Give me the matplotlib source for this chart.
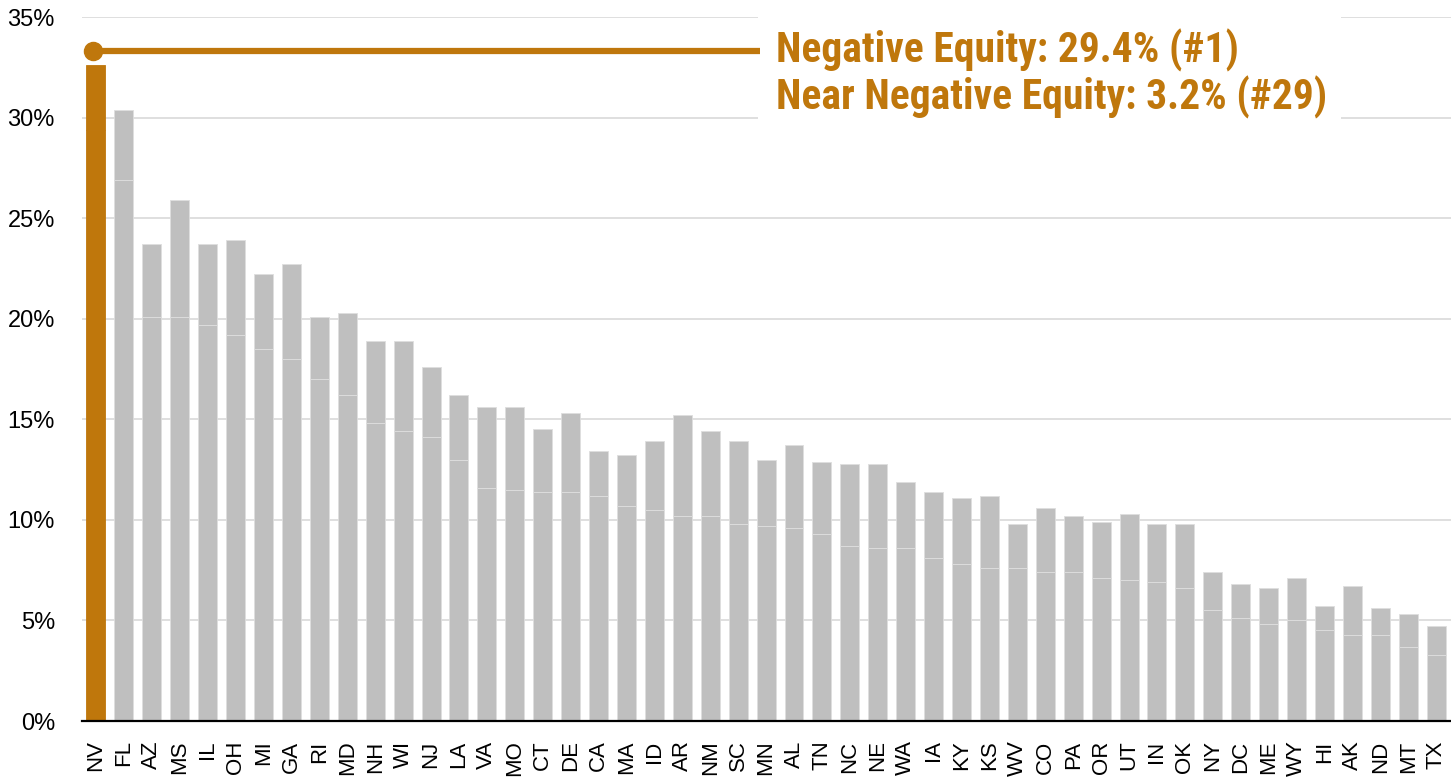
import matplotlib
matplotlib.use("Agg")
import matplotlib.pyplot as plt
from matplotlib import font_manager as fm
import numpy as np

states = ["NV", "FL", "AZ", "MS", "IL", "OH", "MI", "GA", "RI", "MD", "NH", "WI", "NJ",
          "LA", "VA", "MO", "CT", "DE", "CA", "MA", "ID", "AR", "NM", "SC", "MN", "AL",
          "TN", "NC", "NE", "WA", "IA", "KY", "KS", "WV", "CO", "PA", "OR", "UT", "IN",
          "OK", "NY", "DC", "ME", "WY", "HI", "AK", "ND", "MT", "TX"]
negative = [29.4, 26.9, 20.1, 20.1, 19.7, 19.2, 18.5, 18.0, 17.0, 16.2, 14.8, 14.4, 14.1,
            13.0, 11.6, 11.5, 11.4, 11.4, 11.2, 10.7, 10.5, 10.2, 10.2, 9.8, 9.7, 9.6,
            9.3, 8.7, 8.6, 8.6, 8.1, 7.8, 7.6, 7.6, 7.4, 7.4, 7.1, 7.0, 6.9,
            6.6, 5.5, 5.1, 4.8, 5.0, 4.5, 4.3, 4.3, 3.7, 3.3]
near_negative = [3.2, 3.5, 3.6, 5.8, 4.0, 4.7, 3.7, 4.7, 3.1, 4.1, 4.1, 4.5, 3.5,
                 3.2, 4.0, 4.1, 3.1, 3.9, 2.2, 2.5, 3.4, 5.0, 4.2, 4.1, 3.3, 4.1,
                 3.6, 4.1, 4.2, 3.3, 3.3, 3.3, 3.6, 2.2, 3.2, 2.8, 2.8, 3.3, 2.9,
                 3.2, 1.9, 1.7, 1.8, 2.1, 1.2, 2.4, 1.3, 1.6, 1.4]
yticks = [0, 5, 10, 15, 20, 25, 30, 35]
highlight = "NV"
note_lines = ["Negative Equity: 29.4% (#1)", "Near Negative Equity: 3.2% (#29)"]

ORANGE = "#BF770C"
GRAY = "#BFBFBF"
TICKFONT = ["Liberation Sans", "DejaVu Sans"]


def _weight(f):
    if isinstance(f.weight, int):
        return f.weight
    return 700 if "bold" in str(f.weight).lower() else 400


# pick the narrowest-looking bold face available, by preference
prefs = ["liberation sans narrow", "arial narrow", "roboto condensed", "open sans condensed",
         "noto sans condensed", "lato", "dejavu sans condensed", "condensed", "narrow"]
best = None
best_rank = 999
for f in fm.fontManager.ttflist:
    if _weight(f) < 600 or f.style != "normal":
        continue
    key = (f.name + " " + str(f.stretch) + " " + f.fname.split("/")[-1]).lower()
    if "extra" in key or "ultra" in key or "semi" in key or "italic" in key:
        continue
    for r, p in enumerate(prefs):
        if all(tok in key.replace("-", " ").replace("_", " ") for tok in p.split()):
            if p in ("lato",) and "condensed" not in key:
                break
            if r < best_rank:
                best_rank = r
                best = f.fname
            break
if best is not None:
    note_fp = fm.FontProperties(fname=best)
else:
    note_fp = fm.FontProperties(family=["Liberation Sans", "DejaVu Sans"], weight="bold")

fig = plt.figure(figsize=(14.51, 7.84), dpi=100)
ax = fig.add_axes([82 / 1451, 1 - 721 / 784, 1 - 82 / 1451, (721 - 17) / 784])

x = np.arange(len(states))
colors = [ORANGE if s == highlight else GRAY for s in states]
edges = [ORANGE if s == highlight else "#DEDEDE" for s in states]
ax.bar(x, negative, width=0.68, color=colors, edgecolor=edges, linewidth=0.6, zorder=2)
ax.bar(x, near_negative, bottom=negative, width=0.68, color=colors, edgecolor=edges,
       linewidth=0.6, zorder=2)

ax.set_xlim(-0.5, 48.53)
ax.set_ylim(0, 35)
ax.set_yticks(yticks)
ax.set_yticklabels([f"{v}%" for v in yticks], fontsize=17, family=TICKFONT)
ax.set_xticks(x)
ax.set_xticklabels(states, rotation=90, fontsize=16, family=TICKFONT)
ax.tick_params(axis="both", length=0)
ax.tick_params(axis="y", pad=19.5)
ax.tick_params(axis="x", pad=14)
ax.yaxis.grid(True, color="#D9D9D9", linewidth=1.2, zorder=0)
ax.set_axisbelow(True)
for s in ["top", "right", "left"]:
    ax.spines[s].set_visible(False)
ax.spines["bottom"].set_linewidth(1.6)
ax.spines["bottom"].set_color("black")
ax.spines["bottom"].set_zorder(3)

# Highlight callout
i = states.index(highlight)
total_nv = negative[i] + near_negative[i]
ly = total_nv + 0.7
ax.plot([i - 0.1, 23.8], [ly, ly], color=ORANGE, linewidth=4.5, solid_capstyle="butt", zorder=4)
ax.plot([i - 0.1], [ly], marker="o", markersize=13, color=ORANGE, zorder=5)

# white box behind the note
ax.axvspan(23.72, 44.6, ymin=30.0 / 35 - 0.012, ymax=1.0, facecolor="white",
           edgecolor="none", zorder=1.5)

fs = 31
t1 = ax.text(24.35, 33.3, note_lines[0], color=ORANGE, fontproperties=note_fp, fontsize=fs,
             va="baseline", ha="left", zorder=6)
t2 = ax.text(24.35, 30.9, note_lines[1], color=ORANGE, fontproperties=note_fp, fontsize=fs,
             va="baseline", ha="left", zorder=6)
fig.canvas.draw()
wpx = t2.get_window_extent().width
target = (1315 - 776) * 1.02
if wpx > target:
    nfs = fs * target / wpx
    t1.set_fontsize(nfs)
    t2.set_fontsize(nfs)

# put baselines at the reference pixel rows
to_data = ax.transData.inverted()
t1.set_y(to_data.transform((0, 784 - 62))[1])
t2.set_y(to_data.transform((0, 784 - 110))[1])

fig.savefig("out.png", dpi=100)
